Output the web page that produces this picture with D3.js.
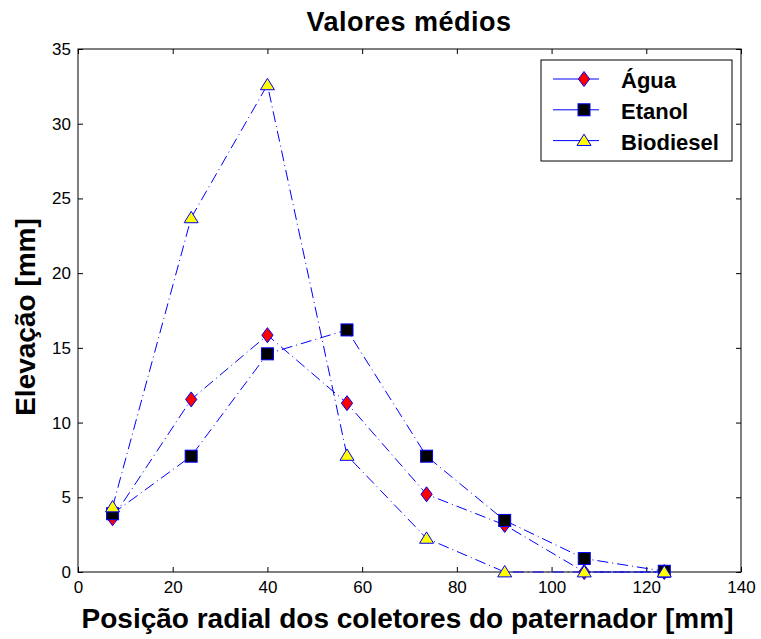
<!DOCTYPE html>
<html><head><meta charset="utf-8">
<script src="https://cdn.jsdelivr.net/npm/d3@7"></script>
<style>body{margin:0;background:#fff}svg{display:block}text{font-family:"Liberation Sans",Arial,sans-serif}</style>
</head><body>
<script>
const xPos = [7.3, 23.9, 40.0, 56.8, 73.6, 90.1, 106.9, 123.8];
const agua = [3.6, 11.55, 15.85, 11.3, 5.2, 3.15, 0.0, 0.0];
const etanol = [3.9, 7.75, 14.6, 16.2, 7.75, 3.45, 0.9, 0.05];
const biodiesel = [4.35, 23.7, 32.6, 7.8, 2.25, 0.0, 0.0, 0.0];
const seriesNames = ["Água", "Etanol", "Biodiesel"];
const xTicks = [0, 20, 40, 60, 80, 100, 120, 140];
const yTicks = [0, 5, 10, 15, 20, 25, 30, 35];

const W = 761, H = 639;
const m = {l: 78, r: 20, t: 49, b: 67};
const svg = d3.select("body").append("svg").attr("width", W).attr("height", H);
const x = d3.scaleLinear().domain([0, 140]).range([m.l, W - m.r]);
const y = d3.scaleLinear().domain([0, 35]).range([H - m.b, m.t]);
const x0 = x(0), x1 = x(140), y0 = y(0), y1 = y(35);

// box
svg.append("rect").attr("x", x0).attr("y", y1).attr("width", x1 - x0).attr("height", y0 - y1)
  .attr("fill", "none").attr("stroke", "#000").attr("stroke-width", 1);

// axes with inner ticks
const tl = 5;
const gx = svg.append("g").attr("transform", `translate(0,${y0})`)
  .call(d3.axisBottom(x).tickValues(xTicks).tickSize(-tl).tickPadding(9).tickFormat(d3.format("d")));
const gxt = svg.append("g").attr("transform", `translate(0,${y1})`)
  .call(d3.axisTop(x).tickValues(xTicks).tickSize(-tl).tickFormat(""));
const gy = svg.append("g").attr("transform", `translate(${x0},0)`)
  .call(d3.axisLeft(y).tickValues(yTicks).tickSize(-tl).tickPadding(7).tickFormat(d3.format("d")));
const gyr = svg.append("g").attr("transform", `translate(${x1},0)`)
  .call(d3.axisRight(y).tickValues(yTicks).tickSize(-tl).tickFormat(""));
[gx, gxt, gy, gyr].forEach(g => {
  g.select(".domain").remove();
  g.selectAll("line").attr("stroke", "#000");
  g.selectAll("text").attr("font-size", 17).attr("fill", "#000").attr("font-family", "Liberation Sans, Arial, sans-serif");
});

const data = [agua, etanol, biodiesel];
const blue = "#0000ff";
const line = d3.line().x((d, i) => x(xPos[i])).y(d => y(d));

function drawMarker(g, k, cx, cy) {
  if (k === 0) {
    const s = 7.5;
    g.append("path").attr("d", `M${cx},${cy - s}L${cx + s * 0.75},${cy}L${cx},${cy + s}L${cx - s * 0.75},${cy}Z`)
      .attr("fill", "#ff0000").attr("stroke", blue).attr("stroke-width", 1);
  } else if (k === 1) {
    const s = 6;
    g.append("rect").attr("x", cx - s).attr("y", cy - s).attr("width", 2 * s).attr("height", 2 * s)
      .attr("fill", "#000").attr("stroke", blue).attr("stroke-width", 1);
  } else {
    const h = 6.5, w = 7;
    g.append("path").attr("d", `M${cx},${cy - h}L${cx + w},${cy + h * 0.75}L${cx - w},${cy + h * 0.75}Z`)
      .attr("fill", "#ffff00").attr("stroke", blue).attr("stroke-width", 1);
  }
}

const plot = svg.append("g");
data.forEach((vals, k) => {
  plot.append("path").attr("d", line(vals)).attr("fill", "none").attr("stroke", blue)
    .attr("stroke-width", 1).attr("stroke-dasharray", "11,4,1,4");
});
data.forEach((vals, k) => {
  const g = plot.append("g");
  vals.forEach((v, i) => drawMarker(g, k, x(xPos[i]), y(v)));
});

// legend
const lg = svg.append("g");
lg.append("rect").attr("x", 541).attr("y", 60).attr("width", 191).attr("height", 101)
  .attr("fill", "#fff").attr("stroke", "#000").attr("stroke-width", 1);
seriesNames.forEach((n, k) => {
  const ly = 79 + k * 30.8;
  lg.append("line").attr("x1", 553).attr("x2", 599).attr("y1", ly).attr("y2", ly)
    .attr("stroke", blue).attr("stroke-width", 1);
  drawMarker(lg, k, 584, ly);
  lg.append("text").attr("x", 621).attr("y", ly + 9).attr("font-size", 22).attr("font-weight", "bold")
    .attr("fill", "#000").text(n);
});

// titles
svg.append("text").attr("x", 409).attr("y", 31).attr("text-anchor", "middle")
  .attr("font-size", 27).attr("font-weight", "bold").attr("letter-spacing", 0.5).text("Valores médios");
svg.append("text").attr("x", (x0 + x1) / 2 - 2).attr("y", 628).attr("text-anchor", "middle")
  .attr("font-size", 28).attr("font-weight", "bold").text("Posição radial dos coletores do paternador [mm]");
svg.append("text").attr("transform", `translate(35,317) rotate(-90)`).attr("text-anchor", "middle")
  .attr("font-size", 28).attr("font-weight", "bold").text("Elevação [mm]");
</script>
</body></html>
